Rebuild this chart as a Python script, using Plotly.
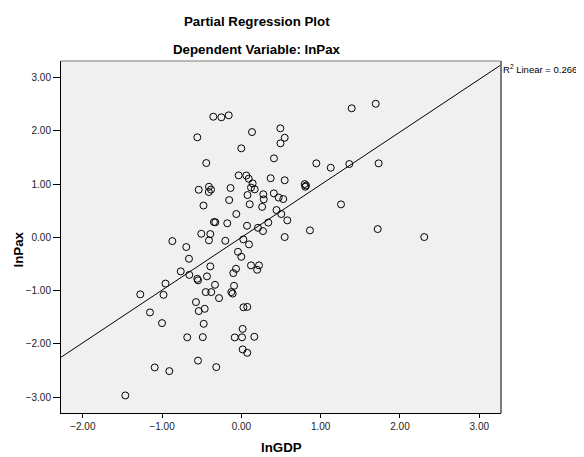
import plotly.graph_objects as go

# Partial regression residuals
ln_gdp = [
    -0.354, -0.253, -0.160, -0.556, 0.134, -0.001, -0.443, -0.034, 0.062, 0.092,
    0.142, 0.121, 0.168, -0.538, -0.409, -0.383, -0.411, -0.137, 0.077, -0.154,
    0.105, -0.478, 1.391, 0.491, 0.546, 0.493, 0.411, 0.945, 1.127, 1.361,
    0.369, 0.546, 0.798, 0.815, 0.806, 0.276, 0.409, 0.470, 0.528, 0.282,
    0.262, 1.256, 1.694, 1.731, 0.865, 1.719, 2.306, -0.064, -0.346, -0.329,
    -0.178, 0.071, 0.209, -0.506, -0.392, -0.409, -0.203, 0.024, 0.096, -0.871,
    -0.695, -0.043, -0.001, -0.661, 0.121, 0.222, 0.199, -0.392, -0.068, -0.102,
    -0.765, -0.657, -0.556, -0.547, -0.434, -0.957, -0.333, -0.093, -0.450, -0.380,
    -0.127, -0.110, -1.275, -0.982, -0.282, -0.573, 0.026, 0.074, -0.538, -0.463,
    0.443, 0.503, 0.579, 0.339, 0.272, 0.546, -1.153, -1.001, -0.475, -0.683,
    -0.487, 0.016, -0.084, 0.008, 0.163, 0.016, 0.074, -1.093, -0.909, -0.547,
    -0.317, -1.464,
]
ln_pax = [
    2.267, 2.256, 2.293, 1.880, 1.979, 1.673, 1.397, 1.165, 1.162, 1.102,
    1.015, 0.936, 0.902, 0.895, 0.951, 0.898, 0.852, 0.927, 0.795, 0.701,
    0.622, 0.598, 2.425, 2.049, 1.872, 1.767, 1.485, 1.391, 1.308, 1.378,
    1.111, 1.073, 1.002, 0.974, 0.951, 0.810, 0.827, 0.748, 0.720, 0.714,
    0.573, 0.620, 2.511, 1.391, 0.132, 0.156, 0.006, 0.438, 0.288, 0.284,
    0.265, 0.218, 0.180, 0.068, 0.062, -0.056, -0.064, -0.038, -0.132, -0.070,
    -0.182, -0.271, -0.365, -0.402, -0.526, -0.526, -0.609, -0.545, -0.590, -0.671,
    -0.639, -0.705, -0.778, -0.808, -0.733, -0.868, -0.891, -0.910, -1.028, -1.028,
    -1.028, -1.056, -1.071, -1.079, -1.141, -1.216, -1.314, -1.306, -1.385, -1.342,
    0.513, 0.438, 0.320, 0.278, 0.118, 0.006, -1.410, -1.611, -1.624, -1.878,
    -1.874, -1.720, -1.880, -1.878, -1.868, -2.105, -2.169, -2.444, -2.513, -2.316,
    -2.438, -2.970,
]

fit_slope = 0.99
fit_intercept = 0.0
r2_text = "R<sup>2</sup> Linear = 0.266"

x_ticks = [-2, -1, 0, 1, 2, 3]
y_ticks = [-3, -2, -1, 0, 1, 2, 3]
x_range = [-2.275, 3.274]
y_range = [-3.30, 3.314]

FONT = "Liberation Sans, Arial, sans-serif"

fig = go.Figure()
fig.add_trace(go.Scatter(
    x=x_range,
    y=[fit_intercept + fit_slope * v for v in x_range],
    mode="lines",
    line=dict(color="black", width=1),
    hoverinfo="skip",
    showlegend=False,
))
fig.add_trace(go.Scatter(
    x=ln_gdp, y=ln_pax, mode="markers",
    marker=dict(symbol="circle-open", size=7, color="black", line=dict(width=1)),
    showlegend=False,
))

fig.update_layout(
    width=576, height=449,
    margin=dict(l=53, r=83, t=53, b=44),
    paper_bgcolor="white",
    plot_bgcolor="#f0f0f0",
    font=dict(family=FONT, size=10, color="#222222"),
    showlegend=False,
    xaxis=dict(
        range=x_range, tickvals=x_ticks, tickformat=".2f",
        showgrid=False, zeroline=False, showline=True, linecolor="black", linewidth=1,
        ticks="outside", ticklen=4, tickcolor="black", tickwidth=1,
        tickfont=dict(size=10, family=FONT, color="#222222"),
    ),
    yaxis=dict(
        range=y_range, tickvals=y_ticks, tickformat=".2f",
        showgrid=False, zeroline=False, showline=True, linecolor="black", linewidth=1,
        ticks="outside", ticklen=7, tickcolor="black", tickwidth=1,
        tickfont=dict(size=10, family=FONT, color="#222222"),
    ),
    shapes=[
        dict(type="line", xref="paper", yref="paper", x0=0, x1=1, y0=1, y1=1,
             line=dict(color="#7a7a7a", width=1)),
        dict(type="line", xref="paper", yref="paper", x0=1, x1=1, y0=0, y1=1,
             line=dict(color="#7a7a7a", width=2)),
    ],
    annotations=[
        dict(text="<b>Partial Regression Plot</b>", xref="paper", yref="paper",
             x=0.4455, y=1.1136, showarrow=False, xanchor="center", yanchor="middle",
             font=dict(size=13.3, family=FONT, color="black")),
        dict(text="<b>Dependent Variable: lnPax</b>", xref="paper", yref="paper",
             x=0.4455, y=1.034, showarrow=False, xanchor="center", yanchor="middle",
             font=dict(size=13.3, family=FONT, color="black")),
        dict(text="<b>lnGDP</b>", xref="paper", yref="paper",
             x=0.5, y=-0.0966, showarrow=False, xanchor="center", yanchor="middle",
             font=dict(size=13.3, family=FONT, color="black")),
        dict(text="<b>lnPax</b>", xref="paper", yref="paper", textangle=-90,
             x=-0.0977, y=0.4645, showarrow=False, xanchor="center", yanchor="middle",
             font=dict(size=13.3, family=FONT, color="black")),
        dict(text=r2_text, xref="paper", yref="paper",
             x=1.001, y=0.977, showarrow=False, xanchor="left", yanchor="middle",
             font=dict(size=9.5, family=FONT, color="black")),
    ],
)

fig.write_html("out.html")
